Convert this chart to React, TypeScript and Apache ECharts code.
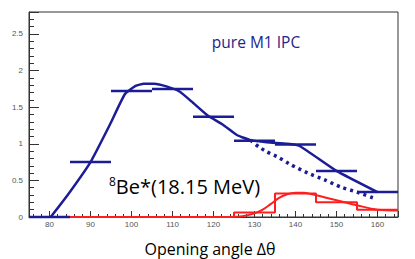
import React, { useEffect, useRef } from "react";
import * as echarts from "echarts";

// Blue histogram bins (centre, value), width 10 degrees
const blueBinCenters = [80, 90, 100, 110, 120, 130, 140, 150, 160];
const blueBinValues = [0, 0.75, 1.72, 1.75, 1.37, 1.04, 0.99, 0.63, 0.34];
const binHalfWidth = 5;

// Blue solid curve
const blueCurveX = [80.3, 84.3, 90, 94.8, 98.4, 101, 103, 105.5, 108.7, 111.8, 115, 118.5, 122.3, 125.7, 129, 133, 138, 141, 150, 160];
const blueCurveY = [0, 0.29, 0.75, 1.27, 1.68, 1.79, 1.82, 1.82, 1.78, 1.71, 1.56, 1.39, 1.26, 1.12, 1.05, 1.02, 1.0, 0.97, 0.63, 0.34];

// Blue dotted curve
const blueDotX = [129, 131, 133, 136, 139, 143, 147, 151, 155, 159.5];
const blueDotY = [1.05, 0.96, 0.89, 0.81, 0.71, 0.6, 0.51, 0.41, 0.34, 0.25];

// Red histogram (bin start edges, value); last point closes the final bin
const redHistX = [75, 125, 135, 145, 155, 165];
const redHistY = [0, 0.06, 0.32, 0.2, 0.1, 0.1];

// Red curve
const redCurveX = [124, 127, 130, 132, 134, 136, 138, 140, 142, 144, 147, 150, 155, 160, 165];
const redCurveY = [0, 0.01, 0.05, 0.1, 0.18, 0.26, 0.31, 0.33, 0.33, 0.31, 0.27, 0.23, 0.16, 0.1, 0.09];

const BLUE = "#1c1c96";
const RED = "#ff1e1e";

const zip = (xs: number[], ys: number[]) => xs.map((x, i) => [x, ys[i]]);

export default function App() {
  const ref = useRef<HTMLDivElement>(null);
  useEffect(() => {
    if (!ref.current) return;
    const chart = echarts.init(ref.current, null, { renderer: "svg" });
    const option: any = {
      animation: false,
      backgroundColor: "#ffffff",
      grid: {
        left: 29,
        top: 12,
        right: 17,
        bottom: 42,
        show: true,
        borderColor: "#333",
        borderWidth: 1,
      },
      xAxis: {
        type: "value",
        min: 75,
        max: 165,
        splitNumber: 9,
        minInterval: 10,
        maxInterval: 10,
        axisLine: { show: true, lineStyle: { color: "#333", width: 1 } },
        axisTick: { show: true, inside: true, length: 6, lineStyle: { color: "#333" } },
        minorTick: { show: true, splitNumber: 5, length: 3, lineStyle: { color: "#333" } },
        splitLine: { show: false },
        axisLabel: {
          showMinLabel: false,
          showMaxLabel: false,
          color: "#555",
          fontSize: 8,
          fontFamily: "Liberation Sans",
          margin: 3,
        },
      },
      yAxis: {
        type: "value",
        min: 0,
        max: 2.8,
        interval: 0.5,
        axisLine: { show: true, lineStyle: { color: "#333", width: 1 } },
        axisTick: { show: true, inside: true, length: 10, lineStyle: { color: "#333" } },
        minorTick: { show: true, splitNumber: 5, length: 5, lineStyle: { color: "#333" } },
        splitLine: { show: false },
        axisLabel: {
          showMaxLabel: false,
          color: "#555",
          fontSize: 8,
          fontFamily: "Liberation Sans",
          margin: 6,
        },
      },
      series: [
        {
          type: "line",
          data: zip(redHistX, redHistY),
          step: "end",
          symbol: "none",
          lineStyle: { color: RED, width: 2 },
          z: 10,
        },
        {
          type: "line",
          data: zip(redCurveX, redCurveY),
          smooth: 0.3,
          symbol: "none",
          lineStyle: { color: RED, width: 2 },
          z: 10,
        },
        {
          type: "custom",
          data: zip(blueBinCenters, blueBinValues),
          renderItem: (params: any, api: any) => {
            const c = api.value(0);
            const v = api.value(1);
            const p1 = api.coord([c - binHalfWidth, v]);
            const p2 = api.coord([c + binHalfWidth, v]);
            return {
              type: "line",
              shape: { x1: p1[0], y1: p1[1], x2: p2[0], y2: p2[1] },
              style: { stroke: BLUE, lineWidth: 2.5 },
            };
          },
          z: 11,
        },
        {
          type: "line",
          data: zip(blueCurveX, blueCurveY),
          smooth: 0.15,
          symbol: "none",
          lineStyle: { color: BLUE, width: 2.5 },
          z: 11,
        },
        {
          type: "line",
          data: zip(blueDotX, blueDotY),
          smooth: 0.2,
          symbol: "none",
          lineStyle: { color: BLUE, width: 3.5, type: [3, 4] },
          z: 11,
        },
      ],
      graphic: [
        {
          type: "text",
          x: 256,
          y: 42,
          style: {
            text: "pure M1 IPC",
            align: "center",
            verticalAlign: "middle",
            fill: "#24248a",
            font: '15.5px "Open Sans"',
          },
        },
        {
          type: "text",
          x: 109,
          y: 186,
          style: {
            text: "{sup|8}{n|Be*(18.15 MeV)}",
            verticalAlign: "middle",
            rich: {
              sup: { fontSize: 12, fontFamily: "Open Sans", fill: "#000", verticalAlign: "top", padding: [0, 0, 9, 0] },
              n: { fontSize: 20, fontFamily: "Open Sans", fill: "#000" },
            },
          },
        },
        {
          type: "text",
          x: 210,
          y: 249,
          style: {
            text: "Opening angle Δθ",
            align: "center",
            verticalAlign: "middle",
            fill: "#000",
            font: '16px "Open Sans"',
          },
        },
      ],
    };
    chart.setOption(option);
    return () => chart.dispose();
  }, []);
  return (
    <div
      ref={ref}
      style={{ position: "fixed", left: 0, top: 0, width: 415, height: 259, background: "#fff" }}
    />
  );
}
